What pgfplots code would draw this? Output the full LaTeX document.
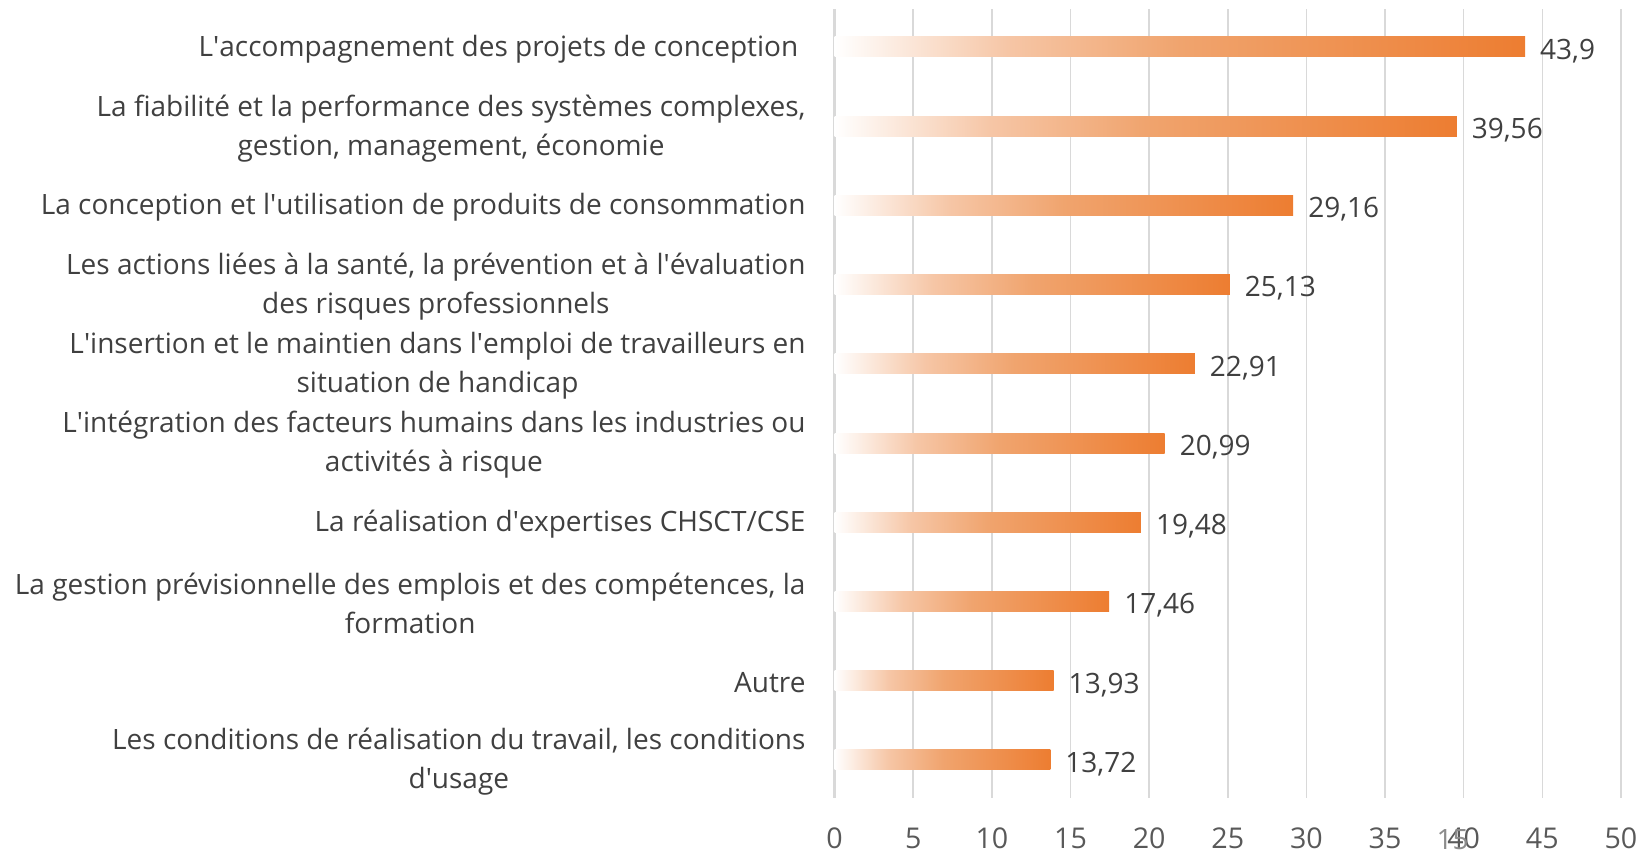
\documentclass[border=0pt]{standalone}
\usepackage{pgfplots}
\pgfplotsset{compat=1.18}
\usepackage{fontspec}
\setmainfont{Open Sans}
\newcommand\q{\textquotesingle}
\definecolor{lbl}{HTML}{404040}
\definecolor{tck}{HTML}{595959}
\definecolor{grd}{HTML}{D9D9D9}
\definecolor{orA}{HTML}{F6C6A6}
\definecolor{orB}{HTML}{F0A46E}
\definecolor{orC}{HTML}{ED7D31}
\pgfdeclarehorizontalshading{barshade}{100bp}{color(0bp)=(white); color(25bp)=(white); color(37.5bp)=(orA); color(50bp)=(orB); color(75bp)=(orC); color(100bp)=(orC)}
\pgfplotsset{mybar/.style={xbar, bar width=10pt, bar shift=0pt, draw=none, shade, shading=barshade,
  nodes near coords,
  nodes near coords style={font=\fontsize{14}{17}\selectfont, text=lbl, anchor=west, xshift=4pt, yshift=-2pt,
    /pgf/number format/precision=2, /pgf/number format/use comma, /pgf/number format/assume math mode=true}}}
\begin{document}
\begin{tikzpicture}
\begin{axis}[
  scale only axis,
  width=393.2pt, height=394.5pt,
  xmin=0, xmax=50,
  ymin=-0.48, ymax=9.48,
  xtick={0,5,...,50},
  ytick={0,...,9},
  yticklabels={{Les conditions de réalisation du travail, les conditions\\d\q usage},
    {Autre},
    {La gestion prévisionnelle des emplois et des compétences, la\\formation},
    {La réalisation d\q expertises CHSCT/CSE},
    {L\q intégration des facteurs humains dans les industries ou\\activités à risque},
    {L\q insertion et le maintien dans l\q emploi de travailleurs en\\situation de handicap},
    {Les actions liées à la santé, la prévention et à l\q évaluation\\des risques professionnels},
    {La conception et l\q utilisation de produits de consommation},
    {La fiabilité et la performance des systèmes complexes,\\gestion, management, économie},
    {L\q accompagnement des projets de conception\ }},
  axis line style={draw=none},
  xmajorgrids,
  grid style={grd, line width=0.75pt},
  extra x ticks={0},
  extra x tick labels={},
  extra x tick style={grid style={grd, line width=1.6pt}},
  major tick length=0pt,
  tick style={draw=none},
  /pgf/number format/assume math mode=true,
  /pgf/number format/use comma,
  xticklabel style={font=\fontsize{14.3}{17}\selectfont, text=tck, yshift=-11.5pt},
  yticklabel style={font=\fontsize{14}{19.5}\selectfont, text=lbl, align=center, anchor=east, xshift=-11pt, yshift=-1pt},
  clip=false,
]
\addplot[mybar] coordinates {(13.72,0)};
\addplot[mybar] coordinates {(13.93,1)};
\addplot[mybar] coordinates {(17.46,2)};
\addplot[mybar] coordinates {(19.48,3)};
\addplot[mybar] coordinates {(20.99,4)};
\addplot[mybar] coordinates {(22.91,5)};
\addplot[mybar] coordinates {(25.13,6)};
\addplot[mybar] coordinates {(29.16,7)};
\addplot[mybar] coordinates {(39.56,8)};
\addplot[mybar] coordinates {(43.9,9)};
\node[font=\fontsize{14}{17}\selectfont, text=black!45, inner sep=0pt] at (axis cs:39.3,-0.48) [yshift=-21pt] {15};
\end{axis}
\pgfresetboundingbox
\path[use as bounding box] (-417.3pt,-28pt) rectangle (404.7pt,399pt);
\end{tikzpicture}
\end{document}
